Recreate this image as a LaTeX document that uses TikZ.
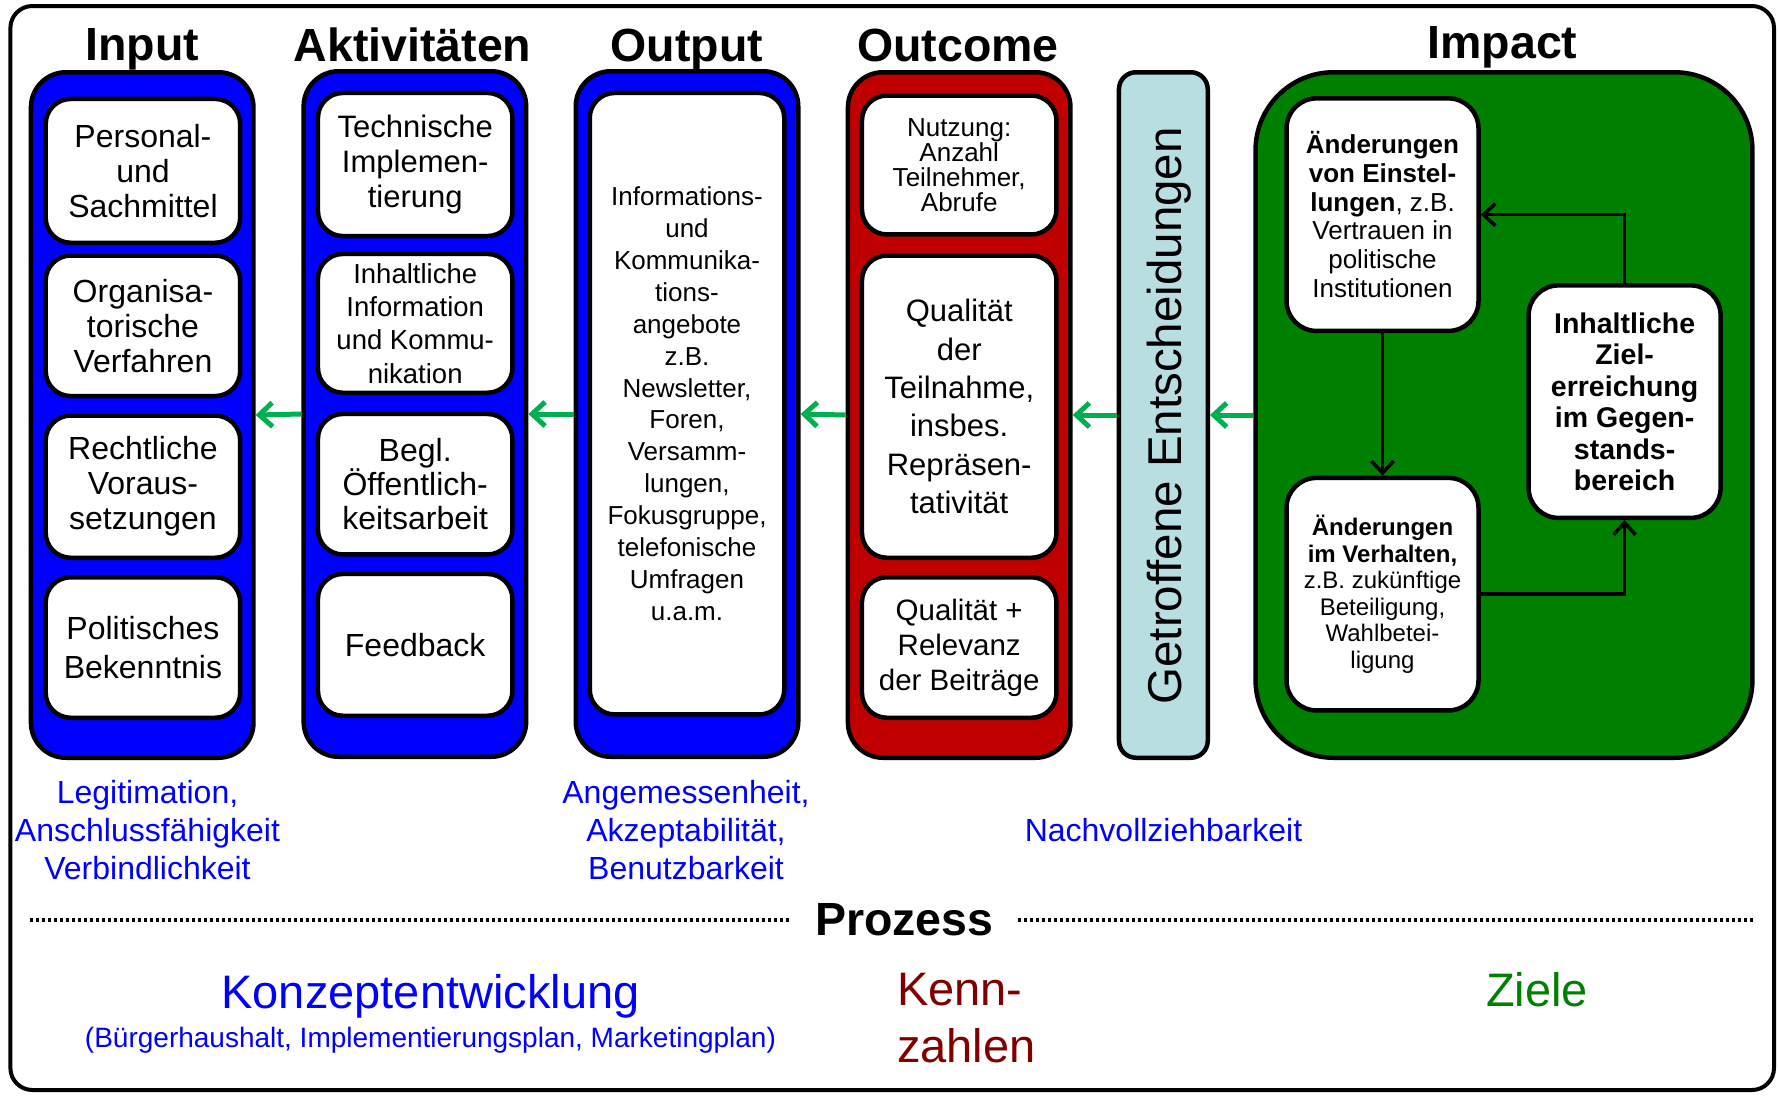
\documentclass[tikz,border=0pt]{standalone}
\usepackage{fontspec}
\setmainfont{Liberation Sans}
\usetikzlibrary{arrows.meta}
\definecolor{colblue}{RGB}{0,0,255}
\definecolor{colred}{RGB}{192,0,0}
\definecolor{colgreen}{RGB}{0,128,0}
\definecolor{arrgreen}{RGB}{0,176,80}
\definecolor{entbg}{RGB}{185,222,226}
\definecolor{kennred}{RGB}{128,0,0}
\newcommand{\fs}[2]{\fontsize{#1}{#2}\selectfont\lineskiplimit=-20pt\relax}
\begin{document}
\begin{tikzpicture}[x=1pt,y=-1pt,
  colbox/.style={draw=black, line width=4.5pt, rounded corners=35pt, minimum width=222.5pt, minimum height=685.5pt, inner sep=0pt},
  inbox/.style={draw=black, fill=white, line width=4.5pt, rounded corners=25pt, minimum width=194.5pt, inner sep=0pt, align=center},
  impbox/.style={draw=black, fill=white, line width=4.5pt, rounded corners=30pt, minimum width=192pt, minimum height=232.5pt, inner sep=0pt, align=center},
  head/.style={font=\fs{46.5}{50}\bfseries, anchor=base, inner sep=0pt},
  garrow/.style={draw=arrgreen, line width=5pt, -{Straight Barb[length=13pt,width=24pt]}},
  barrow/.style={draw=black, line width=3.5pt, -{Straight Barb[length=12pt,width=22pt]}},
  note/.style={text=colblue, align=center, font=\fs{32}{38.3}, inner sep=0pt},
  dotline/.style={line width=4pt, dash pattern=on 3pt off 3pt}
]
\useasboundingbox (0,0) rectangle (1778,1096);
% outer frame
\draw[line width=4pt, rounded corners=22pt] (10.4,6) rectangle (1774,1090);

% columns
\node[colbox, fill=colblue] (input) at (142.2,415) {};
\node[colbox, fill=colblue] (akt) at (414.9,414) {};
\node[colbox, fill=colblue] (output) at (687,414) {};
\node[colbox, fill=colred] (outcome) at (959.2,415) {};
\node[draw=black, fill=entbg, line width=4.5pt, rounded corners=17pt, minimum width=88.8pt, minimum height=685.5pt, inner sep=0pt] (ent) at (1163.35,415) {};
\node[draw=black, fill=colgreen, line width=4.5pt, rounded corners=78pt, minimum width=496.9pt, minimum height=685.5pt, inner sep=0pt] (impact) at (1504,415) {};

% headers
\node[head] (hin) at (142.4,60) {Input};
\node[head] (hakt) at (412.5,61.7) {Aktivitäten};
\node[head] (hout) at (686.8,61.7) {Output};
\node[head] (hoc) at (958,61.7) {Outcome};
\node[head] (himp) at (1502.4,58) {Impact};

% input boxes
\node[inbox, minimum height=143.8pt, font=\fs{32}{35}] (in1) at (142.95,170.85) {Personal-\\und\\Sachmittel};
\node[inbox, minimum height=140.5pt, font=\fs{32}{35}] (in2) at (142.95,325.8) {Organisa-\\torische\\Verfahren};
\node[inbox, minimum height=142.2pt, font=\fs{32}{35}] (in3) at (142.95,486.65) {Rechtliche\\Voraus-\\setzungen};
\node[inbox, minimum height=140.5pt, font=\fs{32}{38.3}] (in4) at (142.95,647.5) {Politisches\\Bekenntnis};

% activity boxes
\node[inbox, minimum height=143.1pt, font=\fs{31}{35}] (ak1) at (415.2,164.5) {Technische\\Implemen-\\tierung};
\node[inbox, minimum height=138.8pt, font=\fs{27.5}{33.4}] (ak2) at (415.2,323.35) {Inhaltliche\\Information\\und Kommu-\\nikation};
\node[inbox, minimum height=140.5pt, font=\fs{32}{34}] (ak3) at (415.2,484.2) {Begl.\\Öffentlich-\\keitsarbeit};
\node[inbox, minimum height=141.8pt, font=\fs{32}{35}] (ak4) at (415.2,644.85) {Feedback};

% output box
\node[inbox, minimum height=621.5pt, font=\fs{26}{31.9}] (out1) at (687,403.7) {Informations-\\und\\Kommunika-\\tions-\\angebote\\z.B.\\Newsletter,\\Foren,\\Versamm-\\lungen,\\Fokusgruppe,\\telefonische\\Umfragen\\u.a.m.};

% outcome boxes
\node[inbox, minimum height=138.9pt, font=\fs{26}{25}] (oc1) at (959.2,165) {Nutzung:\\Anzahl\\Teilnehmer,\\Abrufe};
\node[inbox, minimum height=302.2pt, font=\fs{31}{38.3}] (oc2) at (959.2,406.65) {Qualität\\der\\Teilnahme,\\insbes.\\Repräsen-\\tativität};
\node[inbox, minimum height=140.5pt, font=\fs{29.5}{35}] (oc3) at (959.2,647.5) {Qualität +\\Relevanz\\der Beiträge};

% decisions label
\node[rotate=90, inner sep=0pt, font=\fs{47.5}{50}] (entlabel) at (1169.4,415.8) {Getroffene Entscheidungen};

% impact boxes
\node[impbox, font=\fs{26}{28.7}] (einst) at (1382.5,214.65) {\textbf{Änderungen}\\\textbf{von Einstel-}\\\textbf{lungen}, z.B.\\Vertrauen in\\politische\\Institutionen};
\node[impbox, font=\fs{24}{26.5}] (verh) at (1382.5,594.15) {\textbf{Änderungen}\\\textbf{im Verhalten,}\\z.B. zukünftige\\Beteiligung,\\Wahlbetei-\\ligung};
\node[impbox, font=\fs{28.5}{31.5}\bfseries] (ziel) at (1624.6,401.65) {Inhaltliche\\Ziel-\\erreichung\\im Gegen-\\stands-\\bereich};

% impact arrows
\draw[barrow] (einst.south) -- (verh.north);
\draw[barrow] (verh.east) -| (ziel.south);
\draw[barrow] (ziel.north) |- (einst.east);

% green arrows
\draw[garrow] (akt.west) -- (input.east);
\draw[garrow] (output.west) -- (akt.east);
\draw[garrow] (outcome.west) -- (output.east);
\draw[garrow] (ent.west) -- (outcome.east);
\draw[garrow] (impact.west) -- (ent.east);

% notes below
\node[note] (n1) at (147.5,830.2) {Legitimation,\\Anschlussfähigkeit\\Verbindlichkeit};
\node[note] (n2) at (686,830.2) {Angemessenheit,\\Akzeptabilität,\\Benutzbarkeit};
\node[note, anchor=base] (n3) at (1163.5,841.7) {Nachvollziehbarkeit};

% process line
\node[font=\fs{46.5}{50}\bfseries, inner ysep=0pt, inner xsep=24pt] (prozess) at (904.2,920) {Prozess};
\coordinate (dl) at (30,920);
\coordinate (dr) at (1753.4,920);
\draw[dotline] (dl) -- (prozess.west);
\draw[dotline] (prozess.east) -- (dr);

% bottom labels
\node[text=colblue, font=\fs{47}{56}, anchor=base, inner sep=0pt] (konz) at (430.5,1008.3) {Konzeptentwicklung};
\node[text=colblue, font=\fs{28}{32}, anchor=base, inner sep=0pt] (konzsub) at (430.5,1047.3) {(Bürgerhaushalt, Implementierungsplan, Marketingplan)};
\node[text=kennred, font=\fs{47}{56.7}, align=left, anchor=west, inner sep=0pt] (kenn) at (897,1018.1) {Kenn-\\zahlen};
\node[text=colgreen, font=\fs{47}{56}, anchor=base, inner sep=0pt] (ziele) at (1537,1006.7) {Ziele};
\end{tikzpicture}
\end{document}
